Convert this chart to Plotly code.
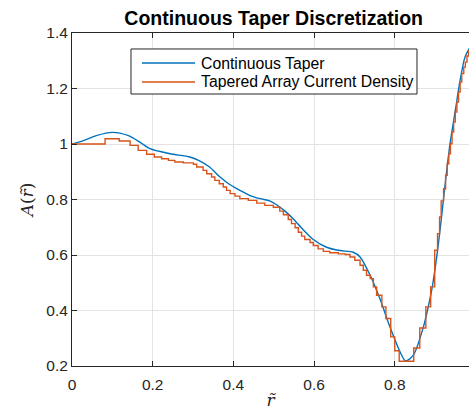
import plotly.graph_objects as go

# Continuous taper A(r~)
r_cont = [0.0, 0.03, 0.06, 0.10, 0.14, 0.17, 0.193, 0.243, 0.292, 0.315, 0.34, 0.367,
          0.39, 0.416, 0.44, 0.466, 0.49, 0.507, 0.528, 0.548, 0.573, 0.598, 0.631,
          0.664, 0.697, 0.714, 0.739, 0.763, 0.788, 0.813, 0.827, 0.846, 0.871, 0.883,
          0.893, 0.904, 0.915, 0.926, 0.937, 0.95, 0.962, 0.974, 0.985]
a_cont = [1.0, 1.013, 1.030, 1.042, 1.030, 1.005, 0.983, 0.965, 0.953, 0.940, 0.918, 0.881,
          0.855, 0.833, 0.815, 0.803, 0.795, 0.781, 0.758, 0.731, 0.691, 0.656, 0.628,
          0.616, 0.610, 0.593, 0.527, 0.443, 0.341, 0.251, 0.218, 0.239, 0.341, 0.413,
          0.485, 0.593, 0.725, 0.870, 1.001, 1.12, 1.23, 1.313, 1.345]

# Tapered array current density: left edge of each step and its level
r_step = [0.0, 0.082, 0.117, 0.144, 0.164, 0.185, 0.204, 0.222, 0.239, 0.255, 0.276,
          0.301, 0.309, 0.325, 0.334, 0.346, 0.354, 0.365, 0.375, 0.383, 0.392, 0.404,
          0.416, 0.437, 0.458, 0.478, 0.499, 0.515, 0.524, 0.536, 0.544, 0.553, 0.561,
          0.569, 0.577, 0.590, 0.598, 0.610, 0.623, 0.639, 0.660, 0.677, 0.689, 0.701,
          0.714, 0.722, 0.730, 0.739, 0.747, 0.755, 0.768, 0.778, 0.790, 0.800, 0.811,
          0.847, 0.862, 0.877, 0.889, 0.899, 0.906, 0.911, 0.915, 0.921, 0.926, 0.930,
          0.934, 0.938, 0.942, 0.946, 0.950, 0.954, 0.958, 0.962, 0.966, 0.971, 0.975,
          0.979, 0.983, 1.0]
a_step = [1.0, 1.019, 1.011, 0.995, 0.977, 0.963, 0.953, 0.947, 0.941, 0.935, 0.932,
          0.927, 0.917, 0.905, 0.893, 0.881, 0.869, 0.857, 0.845, 0.833, 0.821, 0.812,
          0.803, 0.797, 0.787, 0.779, 0.772, 0.758, 0.745, 0.728, 0.713, 0.698, 0.682,
          0.668, 0.656, 0.645, 0.634, 0.622, 0.613, 0.608, 0.604, 0.602, 0.593, 0.581,
          0.563, 0.545, 0.527, 0.515, 0.485, 0.455, 0.413, 0.371, 0.305, 0.255, 0.217,
          0.265, 0.337, 0.413, 0.485, 0.617, 0.677, 0.737, 0.795, 0.839, 0.887, 0.929,
          0.965, 1.001, 1.043, 1.079, 1.115, 1.151, 1.187, 1.223, 1.254, 1.277, 1.295,
          1.317, 1.335, 1.335]

x_ticks = [0, 0.2, 0.4, 0.6, 0.8, 1.0]
x_labels = ["0", "0.2", "0.4", "0.6", "0.8", "1"]
y_ticks = [0.2, 0.4, 0.6, 0.8, 1.0, 1.2, 1.4]
y_labels = ["0.2", "0.4", "0.6", "0.8", "1", "1.2", "1.4"]

series_names = ["Continuous Taper", "Tapered Array Current Density"]

BLUE = "#0072BD"
ORANGE = "#D95319"
INK = "#262626"
FONT = "Liberation Sans, Arial, sans-serif"

fig = go.Figure()
fig.add_trace(go.Scatter(x=r_cont, y=a_cont, mode="lines", name=series_names[0],
                         line=dict(color=BLUE, width=1.4, shape="spline", smoothing=0.8)))
fig.add_trace(go.Scatter(x=r_step, y=a_step, mode="lines", name=series_names[1],
                         line=dict(color=ORANGE, width=1.4, shape="hv")))

axis_common = dict(
    showgrid=True, gridcolor="#e3e3e3", gridwidth=1,
    showline=True, linecolor=INK, linewidth=1,
    ticks="inside", ticklen=5, tickcolor=INK, tickwidth=1,
    tickfont=dict(family=FONT, size=15.5, color=INK),
    zeroline=False,
)

# legend box drawn in paper coordinates of the plot area
legend_box = dict(x0=0.1486, x1=0.869, y0=0.8168, y1=0.952)
legend_rows = [0.9099, 0.8529]
legend_line_x = (0.1763, 0.3098)
legend_text_x = 0.3199

shapes = [dict(type="rect", xref="paper", yref="paper", **legend_box,
               fillcolor="white", line=dict(color=INK, width=1), layer="above")]
annotations = []
for name, color, yrow in zip(series_names, [BLUE, ORANGE], legend_rows):
    shapes.append(dict(type="line", xref="paper", yref="paper",
                       x0=legend_line_x[0], x1=legend_line_x[1], y0=yrow, y1=yrow,
                       line=dict(color=color, width=1.4), layer="above"))
    annotations.append(dict(text=name, xref="paper", yref="paper", x=legend_text_x, y=yrow,
                            xanchor="left", yanchor="middle", showarrow=False,
                            font=dict(family=FONT, size=15.8, color="black")))

fig.update_layout(
    width=469, height=415,
    margin=dict(l=72, r=0, t=33, b=49),
    paper_bgcolor="white", plot_bgcolor="white",
    font=dict(family=FONT, color=INK),
    title=dict(text="<b>Continuous Taper Discretization</b>",
               font=dict(family=FONT, size=19.5, color="black"),
               x=0.508, xanchor="center", xref="paper",
               y=0.957, yanchor="middle", yref="container"),
    xaxis=dict(range=[0, 0.984], tickvals=x_ticks, ticktext=x_labels, mirror="ticks",
               ticklabelstandoff=4,
               title=dict(text="<i>r̃</i>", font=dict(family="DejaVu Serif", size=17, color=INK),
                          standoff=2),
               **axis_common),
    yaxis=dict(range=[0.2, 1.4], tickvals=y_ticks, ticktext=y_labels,
               title=dict(text="<i>A</i>(<i>r̃</i>)", font=dict(family="DejaVu Serif", size=17, color=INK),
                          standoff=8),
               **axis_common),
    shapes=shapes,
    annotations=annotations,
    showlegend=False,
)

fig.write_html("out.html")
